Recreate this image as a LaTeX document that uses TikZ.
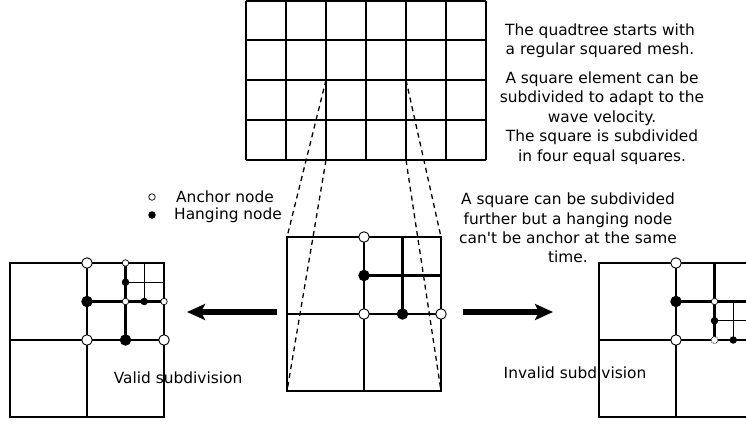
\documentclass[tikz,border=0pt]{standalone}
\usepackage{fontspec}
\setmainfont{DejaVu Sans}
\usetikzlibrary{arrows.meta}

\tikzset{
  anchornode/.style={circle, draw=black, fill=white, line width=0.9pt, inner sep=0pt, minimum size=10.5pt},
  hangnode/.style={circle, draw=black, fill=black, line width=0.9pt, inner sep=0pt, minimum size=10.5pt},
  smallanchor/.style={anchornode, line width=0.7pt, minimum size=6.5pt},
  smallhang/.style={hangnode, minimum size=6.5pt},
  badnode/.style={circle, draw=black, fill=white, densely dotted, line width=0.8pt, inner sep=0pt, minimum size=7pt},
  mesh/.style={line width=1.4pt},
  refine/.style={line width=2.1pt},
  finer/.style={line width=1.3pt},
  proj/.style={line width=1.3pt, dash pattern=on 5pt off 4pt},
  bigarrow/.style={line width=6pt, -{Stealth[length=18pt, width=16pt, inset=4pt]}},
  info/.style={align=center, inner sep=0pt, font=\fontsize{15.4}{19.4}\selectfont},
  legend/.style={anchor=west, inner sep=0pt, font=\fontsize{15.4}{19.4}\selectfont}
}

\begin{document}
\begin{tikzpicture}[x=1pt, y=-1pt]
    \useasboundingbox (0,0) rectangle (746,423);

    % 1. Maglia regolare iniziale (6 x 4 celle)
    \foreach \gx in {246,286,...,486}
        \draw[line width=1.3pt] (\gx,1) -- (\gx,160);
    \foreach \gy in {1,40,80,120,160}
        \draw[line width=1.3pt] (246,\gy) -- (486,\gy);
    \coordinate (cellTL) at (326,80);
    \coordinate (cellBL) at (326,160);
    \coordinate (cellTR) at (406,80);
    \coordinate (cellBR) at (406,160);

    % 2. Quadrato centrale (prima suddivisione)
    \begin{scope}[shift={(287,237)}]
        \draw[mesh] (0,0) rectangle (154,154);
        \draw[mesh] (0,77) -- (77,77);
        \draw[mesh] (77,77) -- (77,154);
        \draw[refine] (77,0) -- (77,77) -- (154,77);
        \draw[refine] (115.5,0) -- (115.5,77);
        \draw[refine] (77,38.5) -- (154,38.5);
        \coordinate (sqTL) at (0,0);
        \coordinate (sqBL) at (0,154);
        \coordinate (sqTR) at (154,0);
        \coordinate (sqBR) at (154,154);
        \node[anchornode] (ca1) at (77,0) {};
        \node[hangnode]   (ch1) at (77,38.5) {};
        \node[anchornode] (ca2) at (77,77) {};
        \node[hangnode]   (ch2) at (115.5,77) {};
        \node[anchornode] (ca3) at (154,77) {};
    \end{scope}

    % 3. Linee tratteggiate di proiezione
    \draw[proj] (cellTL) -- (sqTL);
    \draw[proj] (cellBL) -- (sqBL);
    \draw[proj] (cellTR) -- (sqTR);
    \draw[proj] (cellBR) -- (sqBR);

    % 4. Suddivisione valida (a sinistra)
    \begin{scope}[shift={(10,263)}]
        \draw[mesh] (0,0) rectangle (154,154);
        \draw[mesh] (0,77) -- (154,77);
        \draw[mesh] (77,77) -- (77,154);
        \draw[refine] (77,0) -- (77,77);
        \draw[refine] (115.5,0) -- (115.5,77);
        \draw[refine] (77,38.5) -- (154,38.5);
        \draw[finer] (134.25,0) -- (134.25,38.5);
        \draw[finer] (115.5,19.25) -- (154,19.25);
        \node[anchornode]  (la1) at (77,0) {};
        \node[hangnode]    (lh1) at (77,38.5) {};
        \node[anchornode]  (la2) at (77,77) {};
        \node[hangnode]    (lh2) at (115.5,77) {};
        \node[anchornode]  (la3) at (154,77) {};
        \node[smallanchor] (ls1) at (115.5,0) {};
        \node[smallhang]   (ls2) at (115.5,19.25) {};
        \node[smallanchor] (ls3) at (115.5,38.5) {};
        \node[smallhang]   (ls4) at (134.25,38.5) {};
        \node[smallanchor] (ls5) at (154,38.5) {};
    \end{scope}

    % 5. Suddivisione non valida (a destra, tagliata dal bordo)
    \begin{scope}[shift={(599,263)}]
        \draw[mesh] (160,0) -- (0,0) -- (0,154) -- (160,154);
        \draw[mesh] (0,77) -- (77,77);
        \draw[mesh] (77,77) -- (77,154);
        \draw[refine] (77,0) -- (77,77) -- (160,77);
        \draw[refine] (115.5,0) -- (115.5,77);
        \draw[refine] (77,38.5) -- (160,38.5);
        \draw[finer] (134.25,38.5) -- (134.25,77);
        \draw[finer] (115.5,57.75) -- (160,57.75);
        \node[anchornode]  (ra1) at (77,0) {};
        \node[hangnode]    (rh1) at (77,38.5) {};
        \node[anchornode]  (ra2) at (77,77) {};
        \node[smallanchor] (rs1) at (115.5,38.5) {};
        \node[smallhang]   (rs2) at (115.5,57.75) {};
        \node[badnode]     (rs3) at (115.5,77) {};
        \node[smallhang]   (rs4) at (134.25,77) {};
    \end{scope}

    % 6. Frecce grandi
    \coordinate (lefttail) at (277,312);
    \coordinate (lefthead) at (187,312);
    \coordinate (righttail) at (463,312);
    \coordinate (righthead) at (553,312);
    \draw[bigarrow] (lefttail) -- (lefthead);
    \draw[bigarrow] (righttail) -- (righthead);

    % 7. Legenda
    \node[smallanchor] (keya) at (152,197) {};
    \node[smallhang]   (keyh) at (152,215) {};
    \node[legend] (keyatext) at (176,197) {Anchor node};
    \node[legend] (keyhtext) at (174,215) {Hanging node};

    % 8. Testi esplicativi
    \node[info] (txtmesh) at (600,41) {The quadtree starts with\\a regular squared mesh.};
    \node[info] (txtsplit) at (602,118) {A square element can be\\subdivided to adapt to the\\wave velocity.\\The square is subdivided\\in four equal squares.};
    \node[info] (txtrule) at (568,228) {A square can be subdivided\\further but a hanging node\\can\textquotesingle t be anchor at the same\\time.};
    \node[info] (txtvalid) at (178,378) {Valid subdivision};
    \node[info] (txtinvalid) at (575,373) {Invalid subdivision};

\end{tikzpicture}
\end{document}
